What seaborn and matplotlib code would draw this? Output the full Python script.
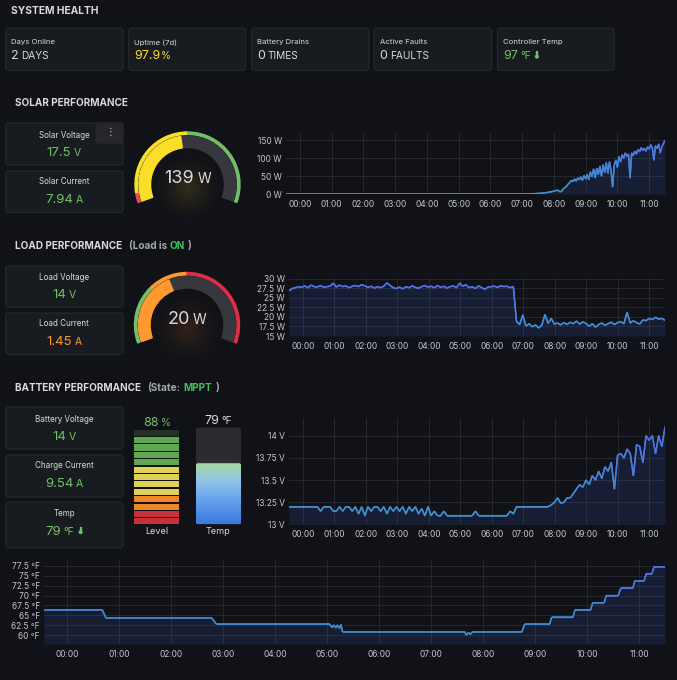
import matplotlib
matplotlib.use("Agg")
import numpy as np
import matplotlib.pyplot as plt
import seaborn as sns
from matplotlib.patches import FancyBboxPatch, Wedge, Rectangle, Circle
from matplotlib.collections import LineCollection
from matplotlib.colors import LinearSegmentedColormap, Normalize, to_rgb

# ---------------- data ----------------
hour_labels = ["00:00", "01:00", "02:00", "03:00", "04:00", "05:00",
               "06:00", "07:00", "08:00", "09:00", "10:00", "11:00"]

health_labels = ["Days Online", "Uptime (7d)", "Battery Drains", "Active Faults", "Controller Temp"]
health_values = ["2", "97.9", "0", "0", "97"]
health_units = ["DAYS", "%", "TIMES", "FAULTS", "°F"]

solar_voltage = "17.5"
solar_current = "7.94"
solar_power = 139
load_voltage = "14"
load_current = "1.45"
load_power = 20
load_state = "ON"
charger_state = "MPPT"
battery_voltage = "14"
charge_current = "9.54"
battery_temp = 79
battery_level = 88

# solar power (W)
solar_t = [-0.44, 7.0, 7.4, 7.7, 7.9] + [round(8.0 + 0.05 * i, 2) for i in range(71)]
solar_w = [0, 0, 1, 3, 6,
           8, 9, 11, 9, 6, 8, 15, 18, 22, 28,
           32, 38, 35, 42, 36, 45, 40, 48, 38, 52,
           42, 55, 40, 62, 48, 70, 45, 72, 55, 78,
           50, 82, 60, 88, 58, 90, 65, 20, 80, 95,
           75, 105, 90, 110, 100, 115, 105, 112, 45, 115,
           108, 120, 112, 125, 118, 130, 122, 128, 120, 132,
           126, 138, 130, 95, 135, 128, 140, 115, 132, 142,
           150]

# load power (W), sampled every ~6 min from 23:34 to 11:30
load_w = [26.8, 27.4, 27.6, 27.9, 27.7,
          28.1, 27.6, 28.3, 27.9, 27.8, 28.2, 27.7, 27.9, 28.0, 28.8,
          27.8, 28.3, 27.9, 28.1, 27.6, 28.0, 28.2, 27.9, 28.4, 28.1,
          27.7, 28.0, 27.5, 27.9, 27.6, 28.0, 28.9, 28.2, 27.6, 27.4,
          27.8, 27.3, 27.9, 27.6, 28.1, 27.7, 27.5, 27.9, 28.2, 27.8,
          28.0, 27.6, 28.2, 27.7, 28.0, 27.5, 27.9, 28.1, 27.6, 28.8,
          28.0, 28.4, 27.6, 27.9, 27.4, 28.1, 27.6, 27.2, 27.8, 27.9,
          28.0, 27.7, 28.1, 27.9, 28.0, 27.6, 27.9,
          18.8, 18.0, 20.5,
          17.6, 18.2, 17.4, 17.9, 17.1, 17.8, 20.6, 18.3, 19.6, 18.1,
          18.4, 17.9, 18.5, 18.0, 18.6, 18.2, 18.9, 18.1, 18.7, 18.3,
          17.5, 18.2, 17.3, 18.0, 18.4, 17.8, 18.2, 18.6, 18.0, 18.5,
          18.8, 18.2, 21.2, 18.4, 19.0, 18.5, 18.1, 19.2, 19.0, 19.6,
          19.3, 19.9, 19.4, 19.6, 19.1]

# battery voltage (V), same sampling
volt_v = [13.2, 13.2, 13.2, 13.2, 13.2,
          13.2, 13.2, 13.2, 13.2, 13.2, 13.15, 13.2, 13.2, 13.2, 13.15,
          13.15, 13.2, 13.15, 13.2, 13.2, 13.15, 13.2, 13.12, 13.2, 13.1,
          13.2, 13.15, 13.2, 13.2, 13.15, 13.2, 13.12, 13.2, 13.15, 13.2,
          13.15, 13.2, 13.12, 13.2, 13.15, 13.2, 13.12, 13.18, 13.1, 13.2,
          13.1, 13.15, 13.1, 13.1, 13.15, 13.1, 13.1, 13.1, 13.1, 13.1,
          13.1, 13.1, 13.1, 13.1, 13.15, 13.1, 13.1, 13.1, 13.1, 13.1,
          13.1, 13.1, 13.1, 13.1, 13.1, 13.15, 13.12,
          13.2, 13.2, 13.2,
          13.2, 13.2, 13.2, 13.2, 13.2, 13.2, 13.2, 13.2, 13.22, 13.25,
          13.3, 13.24, 13.25, 13.3, 13.3, 13.35, 13.4, 13.45, 13.42, 13.5,
          13.45, 13.55, 13.5, 13.6, 13.52, 13.65, 13.6, 13.7, 13.4, 13.78,
          13.8, 13.75, 13.85, 13.8, 13.55, 13.9, 13.88, 13.7, 14.0, 13.95,
          14.0, 13.8, 14.0, 13.88, 14.1]

# battery temperature (°F)
temp_t = [-0.44, 0.68, 0.72, 0.75, 2.78, 2.83, 2.86, 2.9, 5.05, 5.1, 5.13, 5.17, 5.2, 5.24,
          5.27, 5.3, 7.65, 7.68, 7.72, 7.76, 7.8, 7.85, 8.75, 8.8, 9.28, 9.32, 9.73, 9.77,
          10.07, 10.11, 10.33, 10.37, 10.6, 10.65, 10.88, 10.92, 11.1, 11.14, 11.25, 11.29, 11.5]
temp_f = [66.4, 66.4, 65.3, 64.4, 64.4, 63.6, 63.0, 62.8, 62.8, 62.0, 62.6, 61.9, 62.6, 61.8,
          62.7, 60.9, 60.9, 60.1, 60.7, 60.3, 60.9, 60.9, 60.9, 62.8, 62.8, 64.5, 64.5, 66.4,
          66.4, 68.2, 68.2, 70.0, 70.0, 71.8, 71.8, 73.7, 73.7, 75.5, 75.5, 77.2, 77.2]

load_t = list(np.linspace(-0.44, 11.5, len(load_w)))
volt_t = list(np.linspace(-0.44, 11.5, len(volt_v)))

# ---------------- style ----------------
BG = "#111217"
CARD = "#181b1f"
EDGE = "#25282e"
TXT = "#d8d9da"
SUB = "#c4c7cc"
GREEN = "#73bf69"
YELLOW = "#fade2a"
ORANGE = "#ff9830"
RED = "#f2495c"

sns.set_theme(style="dark", rc={"figure.facecolor": BG, "axes.facecolor": "none",
                                "axes.edgecolor": "none", "text.color": TXT,
                                "xtick.color": SUB, "ytick.color": SUB})
plt.rcParams["font.family"] = ["Inter", "DejaVu Sans"]

line_cmap = LinearSegmentedColormap.from_list("bp", ["#3997c6", "#4a80dc", "#5a66ee"])

fig = plt.figure(figsize=(6.77, 6.80), dpi=100)
bg = fig.add_axes([0, 0, 1, 1])
bg.set_xlim(0, 677)
bg.set_ylim(0, 680)
bg.axis("off")
renderer = fig.canvas.get_renderer()


def Y(y):
    return 680 - y


def card(x0, y0, x1, y1, fc=CARD):
    bg.add_patch(FancyBboxPatch((x0, Y(y1)), x1 - x0, y1 - y0,
                                boxstyle="round,pad=0,rounding_size=3",
                                fc=fc, ec=EDGE, lw=0.8))


def rich(x, y, parts, ha="left"):
    # parts: (text, size, color, weight, gap after)
    base = Y(y + 0.36 * parts[0][1] * 1.389)
    objs, cur = [], x
    for s, size, color, weight, gap in parts:
        t = bg.text(cur, base, s, fontsize=size, color=color, fontweight=weight,
                    ha="left", va="baseline")
        cur += t.get_window_extent(renderer).width + gap
        objs.append(t)
    width = cur - x - parts[-1][4]
    if ha == "center":
        for t in objs:
            t.set_x(t.get_position()[0] - width / 2)
        return x + width / 2
    return x + width


def thermo(x, yc):
    bg.add_patch(Rectangle((x - 0.6, Y(yc + 1.5)), 1.2, 5.0, color=GREEN))
    bg.add_patch(Circle((x, Y(yc + 2.2)), 1.3, color=GREEN))


def glow(cx, cy, R, color, amax):
    n = 120
    g = np.linspace(-1, 1, n)
    xx, yy = np.meshgrid(g, g)
    rr = np.sqrt(xx ** 2 + yy ** 2)
    img = np.zeros((n, n, 4))
    img[..., :3] = to_rgb(color)
    img[..., 3] = np.clip(1 - rr, 0, 1) ** 1.6 * amax
    bg.imshow(img, extent=(cx - R, cx + R, Y(cy) - R, Y(cy) + R), aspect="auto",
              interpolation="bilinear", zorder=1)


def gauge(cx, cy, value, vmax, edges, ring_colors, value_color, glow_color):
    r_out, ring_w, gap, band_w = 52.5, 2.4, 1.6, 11.5
    a0, a1 = 200, -20

    def ang(v):
        return a0 - (a0 - a1) * v / vmax

    glow(cx, cy + 4, 38, glow_color, 0.16)
    for i, c in enumerate(ring_colors):
        bg.add_patch(Wedge((cx, Y(cy)), r_out, ang(edges[i + 1]), ang(edges[i]),
                           width=ring_w, color=c, zorder=2))
    rb = r_out - ring_w - gap
    bg.add_patch(Wedge((cx, Y(cy)), rb, a1, a0, width=band_w, color="#37383d", zorder=2))
    bg.add_patch(Wedge((cx, Y(cy)), rb, ang(value), a0, width=band_w, color=value_color, zorder=3))
    rich(cx, cy - 8, [(str(value), 13, TXT, "normal", 3.5), ("W", 10, TXT, "normal", 0)], ha="center")


def series(box, t, v, ylim, yticks, unit):
    x0, y0, x1, y1 = box
    ax = fig.add_axes([x0 / 677, (680 - y1) / 680, (x1 - x0) / 677, (y1 - y0) / 680])
    sns.lineplot(x=t, y=v, ax=ax, color="#4386d0", lw=1.0, sort=False)
    pts = np.column_stack([t, v])
    segs = np.stack([pts[:-1], pts[1:]], axis=1)
    mid = (np.array(v[:-1]) + np.array(v[1:])) / 2
    lc = LineCollection(segs, colors=line_cmap(Normalize(*ylim)(mid)), lw=1.1, zorder=3)
    ax.add_collection(lc)
    ax.fill_between(t, v, ylim[0], color="#3f5fd8", alpha=0.15, lw=0)
    ax.set_xlim(-0.44, 11.5)
    ax.set_ylim(*ylim)
    ax.set_xticks(range(12))
    ax.set_xticklabels(hour_labels)
    ax.set_yticks(yticks)
    ax.set_yticklabels([f"{y:g} {unit}" for y in yticks])
    ax.grid(True, color="#26282e", lw=0.7)
    for s in ax.spines.values():
        s.set_visible(False)
    ax.tick_params(length=0, labelsize=6, colors=SUB)
    ax.tick_params(axis="x", pad=4.3)
    ax.tick_params(axis="y", pad=3)
    ax.set_xlabel("")
    ax.set_ylabel("")
    return ax


# ---------------- SYSTEM HEALTH ----------------
bg.text(11, Y(10.5), "SYSTEM HEALTH", fontsize=7.4, fontweight="bold", color=TXT, va="center")
health_x = [(5.6, 123), (128.7, 245.7), (251.7, 369), (374, 491.8), (497.4, 614)]
health_colors = [TXT, YELLOW, TXT, TXT, GREEN]
for (a, b), lab, val, unit, col in zip(health_x, health_labels, health_values, health_units, health_colors):
    card(a, 28, b, 70.5)
    bg.text(a + 5.5, Y(42.3), lab, fontsize=5.6, color=TXT, va="center")
    g = 0.6 if unit == "%" else 2.6
    end = rich(a + 5.5, 54.5, [(val, 9, col, "normal", g), (unit, 7.3, col, "normal", 0)])
    if unit == "°F":
        thermo(end + 6, 54.5)

# ---------------- SOLAR ----------------
bg.text(15, Y(103), "SOLAR PERFORMANCE", fontsize=7.2, fontweight="bold", color=TXT, va="center")
card(5.6, 123, 123, 165)
card(5.6, 171, 123, 212.5)
card(96, 123, 123, 143, fc="#25272d")
bg.text(111, Y(132.5), "⋮", fontsize=7, color=TXT, ha="center", va="center")
bg.text(64, Y(135), "Solar Voltage", fontsize=5.8, color=TXT, ha="center", va="center")
rich(64, 151.5, [(solar_voltage, 9.5, GREEN, "normal", 2.8), ("V", 7.5, GREEN, "normal", 0)], ha="center")
bg.text(64, Y(182), "Solar Current", fontsize=5.8, color=TXT, ha="center", va="center")
rich(64, 198.5, [(solar_current, 9.5, GREEN, "normal", 2.8), ("A", 7.5, GREEN, "normal", 0)], ha="center")
gauge(187.5, 184.5, solar_power, 300, [0, 15, 150, 300], [RED, YELLOW, GREEN], YELLOW, "#e8c63a")
series((286, 133, 665, 194), solar_t, solar_w, (0, 171), [0, 50, 100, 150], "W")

# ---------------- LOAD ----------------
rich(15, 245, [("LOAD PERFORMANCE", 7.2, TXT, "bold", 6.5),
               ("(Load is", 7.2, "#a3a6ad", "bold", 2.5),
               (load_state, 7.2, "#3fc25a", "bold", 3.5),
               (")", 7.2, "#a3a6ad", "bold", 0)])
card(5.6, 266, 123, 307)
card(5.6, 313, 123, 354.5)
bg.text(64, Y(277), "Load Voltage", fontsize=5.8, color=TXT, ha="center", va="center")
rich(64, 293.5, [(load_voltage, 9.5, GREEN, "normal", 2.8), ("V", 7.5, GREEN, "normal", 0)], ha="center")
bg.text(64, Y(324), "Load Current", fontsize=5.8, color=TXT, ha="center", va="center")
rich(64, 340.5, [(load_current, 9.5, ORANGE, "normal", 2.8), ("A", 7.5, ORANGE, "normal", 0)], ha="center")
gauge(187, 325, load_power, 50, [0, 15, 25, 50], [GREEN, ORANGE, "#e02f44"], ORANGE, "#f07a2a")
series((289, 278, 665, 336), load_t, load_w, (15, 30.15), [15, 17.5, 20, 22.5, 25, 27.5, 30], "W")

# ---------------- BATTERY ----------------
rich(15, 387, [("BATTERY PERFORMANCE", 7.2, TXT, "bold", 6.5),
               ("(State:", 7.2, "#a3a6ad", "bold", 2.5),
               (charger_state, 7.2, "#3fc25a", "bold", 3.5),
               (")", 7.2, "#a3a6ad", "bold", 0)])
card(5.6, 407, 123, 449)
card(5.6, 455, 123, 497)
card(5.6, 502, 123, 548)
bg.text(64, Y(419), "Battery Voltage", fontsize=5.8, color=TXT, ha="center", va="center")
rich(64, 435.5, [(battery_voltage, 9.5, GREEN, "normal", 2.8), ("V", 7.5, GREEN, "normal", 0)], ha="center")
bg.text(64, Y(466), "Charge Current", fontsize=5.8, color=TXT, ha="center", va="center")
rich(64, 482.5, [(charge_current, 9.5, GREEN, "normal", 2.8), ("A", 7.5, GREEN, "normal", 0)], ha="center")
bg.text(64, Y(513.5), "Temp", fontsize=5.8, color=TXT, ha="center", va="center")
end = rich(60, 530, [(str(battery_temp), 9.5, GREEN, "normal", 2.8), ("°F", 7.5, GREEN, "normal", 0)], ha="center")
thermo(end + 6, 530)

# level LED bar
n_seg = 13
seg_top, seg_bot = 429, 525
pitch = (seg_bot - seg_top) / n_seg
for i in range(n_seg):
    lo = i * 100 / n_seg
    if lo < 15:
        col = "#c8303a"
    elif lo < 30:
        col = "#f0862a"
    elif lo < 60:
        col = "#e0d259"
    else:
        col = "#5fa84f"
    if lo >= battery_level:
        col = "#243226"
    yb = seg_bot - i * pitch
    bg.add_patch(Rectangle((133.5, Y(yb) + 0.6), 45.8, pitch - 1.3, fc=col, ec="none"))
rich(157, 421.5, [(str(battery_level), 9, GREEN, "normal", 2.5), ("%", 7.3, GREEN, "normal", 0)], ha="center")
bg.text(157, Y(531.5), "Level", fontsize=6.5, color=TXT, ha="center", va="center")

# temperature bar
bg.add_patch(FancyBboxPatch((196, Y(524.5)), 45, 97, boxstyle="round,pad=0,rounding_size=2",
                            fc="#2b2c31", ec="none"))
frac = battery_temp / 125
fill_top = 524.5 - frac * 97
clip = FancyBboxPatch((196, Y(524.5)), 45, 524.5 - fill_top, boxstyle="round,pad=0,rounding_size=2",
                      fc="none", ec="none")
bg.add_patch(clip)
grad_cmap = LinearSegmentedColormap.from_list("tb", ["#a6d99c", "#8fc1ee", "#5f9cec", "#3b78e0"])
grad = grad_cmap(np.linspace(0, 1, 100))[:, None, :]
im = bg.imshow(grad, extent=(196, 241, Y(524.5), Y(fill_top)), aspect="auto",
               interpolation="bilinear", zorder=2)
im.set_clip_path(clip)
rich(218, 419.5, [(str(battery_temp), 9, TXT, "normal", 2.5), ("°F", 7.3, TXT, "normal", 0)], ha="center")
bg.text(218, Y(532), "Temp", fontsize=6.5, color=TXT, ha="center", va="center")

series((289, 418, 665, 524.5), volt_t, volt_v, (13, 14.2), [13, 13.25, 13.5, 13.75, 14], "V")
series((44, 560, 665, 644), temp_t, temp_f, (57.85, 78.9), [60, 62.5, 65, 67.5, 70, 72.5, 75, 77.5], "°F")

bg.set_xlim(0, 677)
bg.set_ylim(0, 680)
fig.savefig("out.png", dpi=100, facecolor=BG)
